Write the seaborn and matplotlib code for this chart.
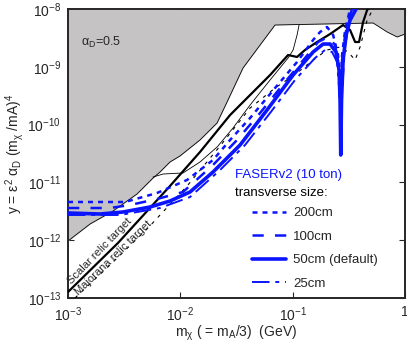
import numpy as np
import pandas as pd
import seaborn as sns
import matplotlib.pyplot as plt
from matplotlib.lines import Line2D
from matplotlib.ticker import NullLocator

# values (log10 of m_chi [GeV] and of y)
excl_lx = [-3.000, -2.804, -2.599, -2.386, -2.243, -2.181, -2.092, -2.003, -1.825, -1.673,
           -1.584, -1.442, -1.290, -1.157, -0.284, -0.159, -0.070, 0.000]
excl_ly = [-12.014, -11.720, -11.495, -11.201, -10.924, -10.820, -10.647, -10.543, -10.266, -9.972,
           -9.609, -9.021, -8.623, -8.277, -8.242, -8.398, -8.484, -8.433]

other_lx = [-2.243, -2.154, -1.976, -1.825, -1.673, -1.531, -1.379, -1.201, -1.041, -0.996, -0.961, -0.943]
other_ly = [-10.907, -10.855, -10.837, -10.647, -10.388, -10.059, -9.661, -9.228, -8.848, -8.709, -8.450, -8.277]

scalar_lx = [-3.000, -2.555, -2.092, -1.825, -1.557, -1.379, -1.201, -1.041, -0.961, -0.890,
             -0.783, -0.667, -0.551, -0.489, -0.444, -0.409, -0.373, -0.337, -0.293]
scalar_ly = [-12.896, -12.048, -11.062, -10.474, -9.834, -9.488, -9.142, -8.796, -8.830, -8.709,
             -8.571, -8.433, -8.277, -8.363, -8.571, -8.571, -8.225, -8.017, -7.930]

major_lx = [-2.938, -2.626, -2.288, -1.940, -1.646, -1.379, -1.157, -0.961, -0.818, -0.694,
            -0.578, -0.507, -0.444, -0.400, -0.337, -0.284]
major_ly = [-13.000, -12.429, -11.789, -11.062, -10.370, -9.713, -9.367, -9.107, -8.882, -8.709,
            -8.657, -8.744, -8.882, -8.657, -8.190, -8.000]

# FASERv2 curves
f200_lx = [-3.000, -2.492, -2.207, -1.940, -1.709, -1.557, -1.379, -1.157, -0.961, -0.818,
           -0.756, -0.694, -0.640, -0.596, -0.578, -0.560, -0.533, -0.489]
f200_ly = [-11.339, -11.339, -11.183, -10.958, -10.612, -10.266, -9.886, -9.367, -8.917, -8.536,
           -8.398, -8.311, -8.450, -8.796, -9.401, -8.796, -8.363, -8.000]

f100_lx = [-3.000, -2.626, -2.448, -2.207, -1.976, -1.709, -1.495, -1.290, -1.068, -0.890,
           -0.774, -0.685, -0.622, -0.587, -0.574, -0.560, -0.533, -0.498, -0.471]
f100_ly = [-11.443, -11.443, -11.391, -11.287, -11.166, -10.699, -10.266, -9.799, -9.263, -8.848,
           -8.571, -8.484, -8.623, -9.055, -9.920, -8.882, -8.450, -8.156, -8.000]

f50_lx = [-3.000, -2.715, -2.510, -2.270, -2.092, -1.914, -1.709, -1.468, -1.228, -0.996, -0.818,
          -0.729, -0.667, -0.614, -0.587, -0.578, -0.572, -0.565, -0.551, -0.524, -0.489, -0.435]
f50_ly = [-11.529, -11.547, -11.512, -11.426, -11.322, -11.166, -10.820, -10.353, -9.747, -9.142, -8.744,
          -8.606, -8.606, -8.744, -9.055, -9.574, -10.526, -9.574, -8.882, -8.450, -8.190, -8.000]

f25_lx = [-3.000, -2.537, -2.181, -1.914, -1.646, -1.424, -1.201, -0.979, -0.801, -0.712,
          -0.649, -0.605, -0.578, -0.572, -0.560, -0.533, -0.498, -0.444]
f25_ly = [-11.564, -11.564, -11.443, -11.253, -10.785, -10.353, -9.799, -9.228, -8.848, -8.709,
          -8.744, -8.917, -9.574, -10.439, -9.401, -8.623, -8.277, -8.000]

xticks = [1e-3, 1e-2, 1e-1, 1]
xticklabels = ['$10^{-3}$', '$10^{-2}$', '$10^{-1}$', '1']
yticks = [1e-13, 1e-12, 1e-11, 1e-10, 1e-9, 1e-8]
yticklabels = ['$10^{-13}$', '$10^{-12}$', '$10^{-11}$', '$10^{-10}$', '$10^{-9}$', '$10^{-8}$']

legend_labels = ['200cm', '100cm', '50cm (default)', '25cm']

sns.set_style('ticks')
plt.rcParams['font.family'] = ['Liberation Sans', 'DejaVu Sans']
plt.rcParams['mathtext.fontset'] = 'custom'
plt.rcParams['mathtext.rm'] = 'Liberation Sans'
plt.rcParams['mathtext.it'] = 'Liberation Sans:italic'
plt.rcParams['mathtext.default'] = 'regular'

fig = plt.figure(figsize=(4.07, 3.43), dpi=100)
ax = fig.add_axes([68 / 407, 1 - 298 / 343, 337 / 407, 289 / 343])


def df(lx, ly):
    return pd.DataFrame({'m': 10 ** np.array(lx), 'y': 10 ** np.array(ly)})


# excluded region
ex = df(excl_lx, excl_ly)
ax.fill_between(ex['m'], ex['y'], 1e-8, color='#c6c3c5', lw=0, zorder=1)
sns.lineplot(data=ex, x='m', y='y', color='black', lw=0.6, sort=False, estimator=None, ax=ax, zorder=2)
sns.lineplot(data=df(other_lx, other_ly), x='m', y='y', color='black', lw=0.6, sort=False,
             estimator=None, ax=ax, zorder=2)

# relic targets
sns.lineplot(data=df(scalar_lx, scalar_ly), x='m', y='y', color='black', lw=1.6, sort=False,
             estimator=None, ax=ax, zorder=4)
sns.lineplot(data=df(major_lx, major_ly), x='m', y='y', color='black', lw=0.8, sort=False,
             estimator=None, ax=ax, zorder=3, dashes=False, linestyle=(0, (3, 5)))

blue = '#0a14ff'
styles = [(f200_lx, f200_ly, 1.8, (0, (2, 2))),
          (f100_lx, f100_ly, 1.8, (0, (4.5, 4.5))),
          (f50_lx, f50_ly, 2.6, '-'),
          (f25_lx, f25_ly, 1.4, (0, (9, 3, 2, 3)))]
handles = []
for lx, ly, lw, ls in styles:
    sns.lineplot(data=df(lx, ly), x='m', y='y', color=blue, lw=lw, linestyle=ls, sort=False,
                 estimator=None, ax=ax, zorder=5)
    handles.append(Line2D([], [], color=blue, lw=lw, linestyle=ls))

ax.set_xscale('log')
ax.set_yscale('log')
ax.set_xlim(1e-3, 1)
ax.set_ylim(1e-13, 1e-8)
ax.set_xticks(xticks)
ax.set_xticklabels(xticklabels)
ax.set_yticks(yticks)
ax.set_yticklabels(yticklabels)
ax.xaxis.set_minor_locator(NullLocator())
ax.yaxis.set_minor_locator(NullLocator())
ax.tick_params(direction='in', length=4, width=0.8, top=True, right=True, labelsize=10, pad=5)
for s in ax.spines.values():
    s.set_linewidth(1.4)

ax.set_xlabel(r'$m_\chi$ ( = $m_A$/3)  (GeV)', fontsize=10, labelpad=0)
ax.set_ylabel(r'y = $\varepsilon^2\ \alpha_D\ (m_\chi\ /mA)^4$', fontsize=10, labelpad=1)

ax.text(0.04, 0.885, r'$\alpha_D$=0.5', transform=ax.transAxes, fontsize=9, va='center')
ax.text(1e-3 * 1.1, 1e-13 * 1.6, 'Scalar relic target', rotation=46, fontsize=8,
        rotation_mode='anchor', ha='left', va='bottom')
ax.text(1e-3 * 1.28, 1e-13 * 1.05, 'Majorana relic target', rotation=44, fontsize=8,
        rotation_mode='anchor', ha='left', va='bottom')

ax.text((235 - 68) / 337, (298 - 175) / 289, 'FASERv2 (10 ton)', color=blue, fontsize=9.5,
        transform=ax.transAxes, va='center')
ax.text((235 - 68) / 337, (298 - 193) / 289, 'transverse size:', color='black', fontsize=9.5,
        transform=ax.transAxes, va='center')
ax.legend(handles, legend_labels, loc='upper left', bbox_to_anchor=((252 - 68) / 337, (298 - 207) / 289),
          frameon=False, fontsize=9.5, handlelength=2.6, handletextpad=0.5, labelspacing=0.85,
          borderpad=0, borderaxespad=0)

fig.savefig('out.png', dpi=100)
